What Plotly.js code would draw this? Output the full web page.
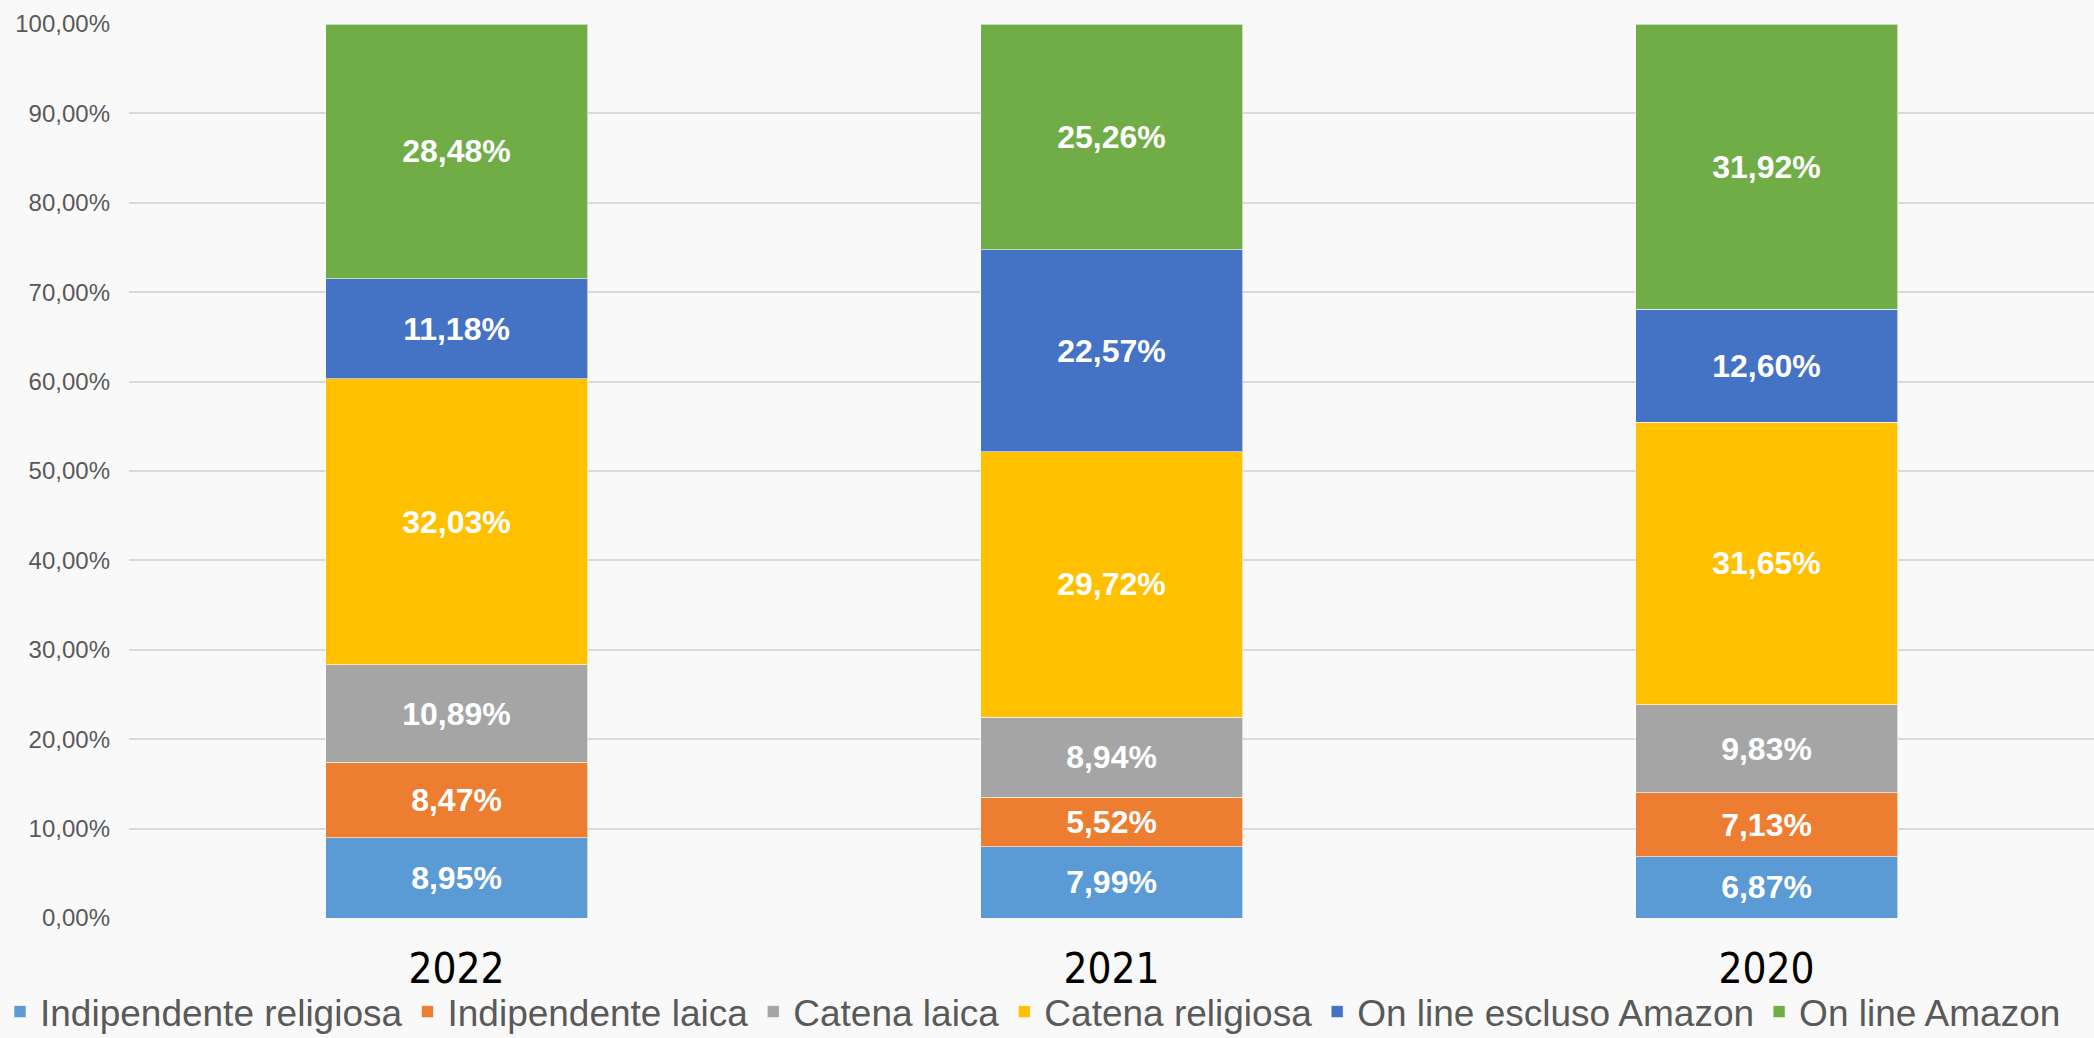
<!DOCTYPE html>
<html>
<head>
<meta charset="utf-8">
<script src="https://cdn.plot.ly/plotly-3.0.1.min.js"></script>
<style>
html,body{margin:0;padding:0;background:#f9f9f9;}
#chart{width:2094px;height:1038px;}
</style>
</head>
<body>
<div id="chart"></div>
<script>
const years = ["2022", "2021", "2020"];
const seriesNames = ["Indipendente religiosa", "Indipendente laica", "Catena laica", "Catena religiosa", "On line escluso Amazon", "On line Amazon"];
const indipendenteReligiosa = [8.95, 7.99, 6.87];
const indipendenteLaica = [8.47, 5.52, 7.13];
const catenaLaica = [10.89, 8.94, 9.83];
const catenaReligiosa = [32.03, 29.72, 31.65];
const onlineEsclusoAmazon = [11.18, 22.57, 12.60];
const onlineAmazon = [28.48, 25.26, 31.92];
const yTickValues = [0, 10, 20, 30, 40, 50, 60, 70, 80, 90, 100];
const yTickLabels = ["0,00%", "10,00%", "20,00%", "30,00%", "40,00%", "50,00%", "60,00%", "70,00%", "80,00%", "90,00%", "100,00%"];

const seriesValues = [indipendenteReligiosa, indipendenteLaica, catenaLaica, catenaReligiosa, onlineEsclusoAmazon, onlineAmazon];
const colors = ["#5B9BD5", "#ED7D31", "#A5A5A5", "#FFC000", "#4472C4", "#70AD47"];

const arial = "'Liberation Sans', Arial, sans-serif";

const traces = seriesNames.map((name, i) => ({
  type: "bar",
  name: name,
  x: years,
  y: seriesValues[i],
  marker: {color: colors[i], line: {color: "rgba(255,255,255,0.6)", width: 1}},
  texttemplate: "%{y:.2f}%",
  textposition: "inside",
  insidetextanchor: "middle",
  textangle: 0,
  constraintext: "none",
  textfont: {family: arial, size: 32, color: "#ffffff", weight: "bold"},
  hoverinfo: "skip"
}));

const layout = {
  width: 2094,
  height: 1038,
  barmode: "stack",
  bargap: 0.6,
  separators: ",.",
  paper_bgcolor: "#f9f9f9",
  plot_bgcolor: "#f9f9f9",
  margin: {l: 0, r: 0, t: 24, b: 120, autoexpand: false},
  showlegend: true,
  xaxis: {
    type: "category",
    domain: [129 / 2094, 1],
    tickfont: {family: "'DejaVu Sans Condensed', 'Open Sans', sans-serif", size: 42, color: "#000000"},
    ticks: "",
    ticklabelstandoff: 22,
    showgrid: false,
    zeroline: false,
    showline: false
  },
  yaxis: {
    range: [0, 100],
    tickvals: yTickValues,
    ticktext: yTickLabels,
    tickfont: {family: arial, size: 24, color: "#595959"},
    ticks: "",
    ticklabelstandoff: 18,
    showgrid: true,
    gridcolor: "#d9d9d9",
    gridwidth: 2,
    zeroline: false,
    showline: false
  },
  legend: {
    orientation: "h",
    xref: "container",
    yref: "container",
    x: 0,
    xanchor: "left",
    y: 0.025,
    yanchor: "middle",
    font: {family: arial, size: 37, color: "#595959"},
    itemwidth: 30,
    traceorder: "normal",
    bgcolor: "rgba(0,0,0,0)"
  }
};

Plotly.newPlot("chart", traces, layout, {displayModeBar: false, staticPlot: true});
</script>
</body>
</html>
